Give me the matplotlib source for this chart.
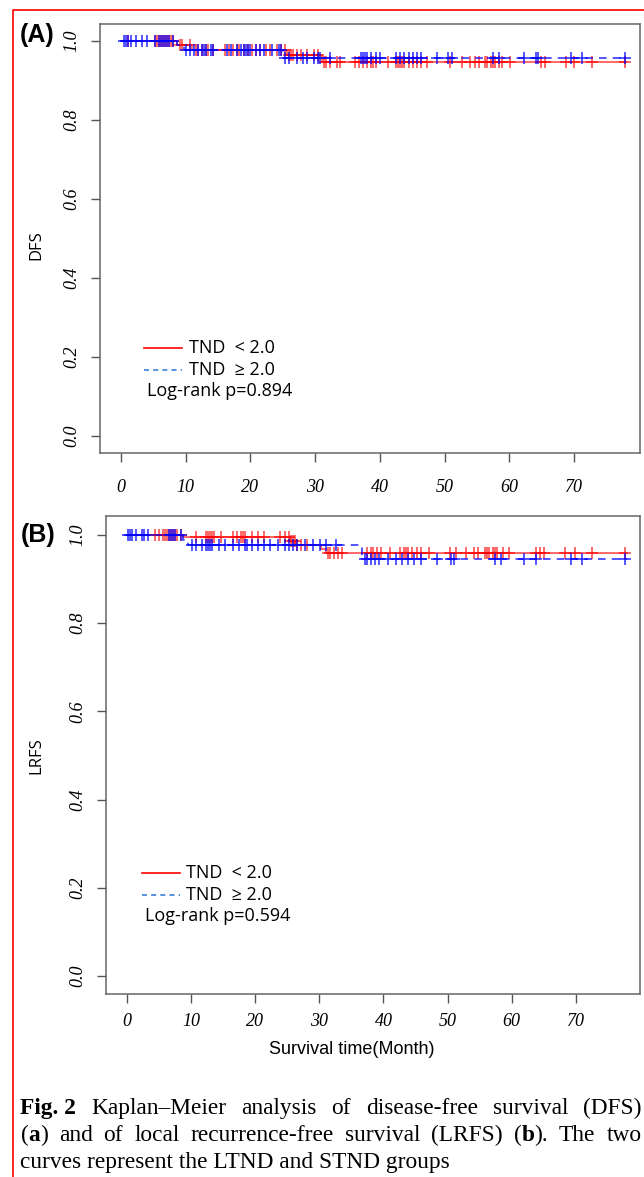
import numpy as np
import matplotlib
matplotlib.use("Agg")
import matplotlib.pyplot as plt
from matplotlib.lines import Line2D

W, H = 644, 1177
SERIF = ["Liberation Serif", "DejaVu Serif"]
SANS = ["Liberation Sans", "DejaVu Sans"]
KR = ["Open Sans", "Noto Sans CJK KR", "DejaVu Sans"]

# ---- data (months / survival) ----
dfs_red_t = [0, 8.7, 10.9, 25.6, 31.0, 78.0]
dfs_red_s = [1.0, 0.99, 0.977, 0.964, 0.946, 0.946]
dfs_blue_t = [0, 8.7, 9.7, 25.0, 78.0]
dfs_blue_s = [1.0, 0.99, 0.977, 0.956, 0.956]

dfs_red_cens = [1.07, 5.2, 5.53, 5.85, 6.17, 6.49, 6.81, 7.13, 7.45, 7.77, 8.09, 9.04, 9.36,
                10.64, 11.59, 11.91, 12.55, 13.19, 13.5, 14.14, 16.06, 16.7, 17.33, 17.97,
                18.29, 18.93, 19.57, 20.2, 20.84, 21.48, 22.43, 23.07, 24.03, 24.67, 25.3,
                25.94, 26.26, 26.58, 27.2, 27.86, 28.8, 29.77, 30.4, 31.36, 31.68, 32.3,
                33.3, 33.9, 36.15, 36.8, 37.4, 38.06, 38.7, 39.0, 39.34, 41.25, 42.5, 42.84,
                43.16, 43.48, 43.8, 44.44, 45.08, 45.71, 46.35, 47.3, 50.8, 52.7, 54.0,
                54.64, 55.28, 56.24, 56.55, 57.2, 57.5, 57.8, 58.47, 58.8, 60.06, 64.85,
                65.5, 68.7, 69.95, 72.8, 77.9]
dfs_blue_cens = [0.43, 0.75, 1.07, 1.58, 2.35, 3.3, 3.94, 5.2, 5.85, 6.17, 6.49, 6.81, 7.13,
                 7.45, 8.09, 10.0, 10.64, 11.27, 11.91, 12.55, 12.87, 13.19, 13.83, 14.14,
                 16.38, 17.0, 17.97, 18.6, 18.93, 19.25, 19.57, 19.88, 20.84, 21.48, 22.12,
                 23.39, 24.35, 24.67, 25.3, 25.94, 27.2, 28.17, 28.8, 29.77, 30.4, 30.73,
                 32.3, 37.1, 37.4, 37.74, 38.06, 38.7, 39.34, 39.97, 42.5, 43.16, 43.8,
                 44.44, 45.08, 45.71, 46.35, 48.9, 50.5, 51.1, 57.5, 58.47, 62.3, 64.2,
                 64.5, 69.6, 71.2, 77.9]

lrfs_red_t = [0, 8.8, 25.4, 26.2, 30.2, 31.0, 78.0]
lrfs_red_s = [1.0, 0.995, 0.986, 0.978, 0.968, 0.960, 0.960]
lrfs_blue_t = [0, 8.8, 9.5, 36.6, 78.0]
lrfs_blue_s = [1.0, 0.989, 0.977, 0.945, 0.945]

lrfs_red_cens = [4.32, 4.96, 5.6, 5.92, 6.25, 6.57, 6.89, 7.21, 7.53, 7.85, 8.5, 10.75, 12.35,
                 12.68, 13.0, 13.32, 13.64, 14.6, 16.53, 17.18, 17.82, 18.14, 18.46, 19.43,
                 20.4, 21.36, 23.93, 24.57, 25.22, 25.54, 25.86, 26.18, 26.5, 27.15, 28.11,
                 31.33, 31.65, 32.3, 32.93, 33.58, 37.44, 38.08, 38.4, 39.04, 39.69, 40.97,
                 42.58, 43.22, 43.54, 43.87, 44.5, 45.15, 45.8, 47.1, 50.3, 51.26, 52.87,
                 54.15, 54.8, 55.76, 56.08, 56.4, 57.05, 57.37, 57.7, 58.66, 59.62, 63.8,
                 64.44, 65.1, 68.3, 69.9, 72.5, 77.6]
lrfs_blue_cens = [0.14, 0.46, 0.78, 1.42, 2.39, 2.71, 3.35, 6.57, 6.89, 7.21, 7.53, 8.5,
                  10.1, 10.75, 11.71, 12.35, 12.68, 13.0, 13.32, 14.28, 15.25, 16.53, 17.5,
                  18.46, 18.79, 19.43, 20.4, 21.36, 22.32, 23.6, 24.57, 25.22, 25.86, 26.5,
                  27.79, 29.07, 30.04, 31.0, 32.6, 37.1, 37.44, 38.08, 38.72, 39.36, 40.65,
                  41.94, 42.9, 43.87, 44.83, 45.8, 48.37, 50.6, 50.94, 57.37, 58.33, 61.87,
                  63.8, 69.27, 70.9, 77.6]

x_ticks = [0, 10, 20, 30, 40, 50, 60, 70]
y_ticks = [0.0, 0.2, 0.4, 0.6, 0.8, 1.0]
legend_labels = ["TND  < 2.0", "TND  \u2265 2.0"]
pvals = ["Log-rank p=0.894", "Log-rank p=0.594"]


def px(x, y):
    return x / W, 1 - y / H


def box(l, t, r, b):
    return [l / W, 1 - b / H, (r - l) / W, (b - t) / H]


def km(ax, t, s, cens, color, ls, alpha):
    ax.step(t, s, where="post", color=color, lw=1.1, ls=ls, alpha=alpha)
    idx = np.searchsorted(t, cens, side="right") - 1
    ax.plot(cens, np.asarray(s)[idx], ls="none", marker="+", ms=8.5, mew=1.1,
            color=color, alpha=alpha)


def style_axes(ax, xlim, ylim, xpad, ypad):
    ax.set_xlim(*xlim)
    ax.set_ylim(*ylim)
    ax.set_xticks(x_ticks)
    ax.set_yticks(y_ticks)
    ax.set_xticklabels([str(v) for v in x_ticks], family=SERIF, style="italic", fontsize=13)
    ax.set_yticklabels([f"{v:.1f}" for v in y_ticks], family=SERIF, style="italic",
                       fontsize=13, rotation=90, va="center")
    ax.tick_params(axis="both", length=6.5, width=1.0, color="#555555")
    ax.tick_params(axis="x", pad=xpad)
    ax.tick_params(axis="y", pad=ypad)
    for sp in ax.spines.values():
        sp.set_color("#666666")
        sp.set_linewidth(1.1)


fig = plt.figure(figsize=(W / 100, H / 100), dpi=100)

# panel A
axA = fig.add_axes(box(100, 24, 640, 453))
km(axA, dfs_red_t, dfs_red_s, dfs_red_cens, "red", "-", 0.75)
km(axA, dfs_blue_t, dfs_blue_s, dfs_blue_cens, "blue", (0, (5, 4)), 0.85)
style_axes(axA, (-3.25, 80.2), (-0.043, 1.042), 12, 8)

# panel B
axB = fig.add_axes(box(106, 516, 640, 994))
km(axB, lrfs_red_t, lrfs_red_s, lrfs_red_cens, "red", "-", 0.75)
km(axB, lrfs_blue_t, lrfs_blue_s, lrfs_blue_cens, "blue", (0, (5, 4)), 0.85)
style_axes(axB, (-3.27, 80.0), (-0.041, 1.043), 7, 7.5)

# panel tags and axis labels
fig.text(*px(37, 35), "(A)", fontsize=18, fontweight="bold", family=SANS, ha="center", va="center")
fig.text(*px(38, 535), "(B)", fontsize=18, fontweight="bold", family=SANS, ha="center", va="center")
fig.text(*px(36, 245), "DFS", fontsize=12, family=KR, rotation=90, ha="center", va="center")
fig.text(*px(36, 756), "LRFS", fontsize=12, family=KR, rotation=90, ha="center", va="center")
fig.text(*px(352, 1050), "Survival time(Month)", fontsize=13, family=SANS,
         ha="center", va="center")

# legends
for (y0, xl, xt), p in zip([(348, 144, 189), (873, 142, 186)], pvals):
    fig.add_artist(Line2D([xl / W, (xl + 38) / W], [1 - y0 / H] * 2, color="red", lw=1.2))
    fig.add_artist(Line2D([xl / W, (xl + 38) / W], [1 - (y0 + 22) / H] * 2, color="#3a7fdc",
                          lw=1.2, ls=(0, (3, 2.5))))
    fig.text(*px(xt, y0), legend_labels[0], fontsize=13, family=KR, va="center")
    fig.text(*px(xt, y0 + 22), legend_labels[1], fontsize=13, family=KR, va="center")
    fig.text(*px(xl + 3, y0 + 43), p, fontsize=13, family=KR, va="center")

# red frame
fig.add_artist(Line2D([13 / W, 13 / W, 1.0], [0.0, 1 - 10 / H, 1 - 10 / H], color="red", lw=1.2))

# caption, justified
CAP = 16.8
line1 = [[("Fig. 2", "bold")], [("Kaplan\u2013Meier", "normal")], [("analysis", "normal")],
         [("of", "normal")], [("disease-free", "normal")], [("survival", "normal")],
         [("(DFS)", "normal")]]
line2 = [[("(", "normal"), ("a", "bold"), (")", "normal")], [("and", "normal")],
         [("of", "normal")], [("local", "normal")], [("recurrence-free", "normal")],
         [("survival", "normal")], [("(LRFS)", "normal")],
         [("(", "normal"), ("b", "bold"), (").", "normal")], [("The", "normal")],
         [("two", "normal")]]


def justified(tokens, y, x0, x1):
    arts = [[fig.text(0, 0, s, fontsize=CAP, fontweight=w, family=SERIF, va="baseline")
             for s, w in tok] for tok in tokens]
    fig.canvas.draw()
    r = fig.canvas.get_renderer()
    widths = [[a.get_window_extent(r).width for a in tok] for tok in arts]
    gap = (x1 - x0 - sum(sum(w) for w in widths)) / (len(arts) - 1)
    x = x0
    for tok, ws in zip(arts, widths):
        for a, w in zip(tok, ws):
            a.set_position(px(x, y))
            x += w
        x += gap


justified(line1, 1114, 20.5, 641.5)
justified(line2, 1141, 20.5, 641.5)
fig.text(*px(20.5, 1168), "curves represent the LTND and STND groups", fontsize=CAP,
         family=SERIF, va="baseline")

fig.savefig("out.png", dpi=100)
